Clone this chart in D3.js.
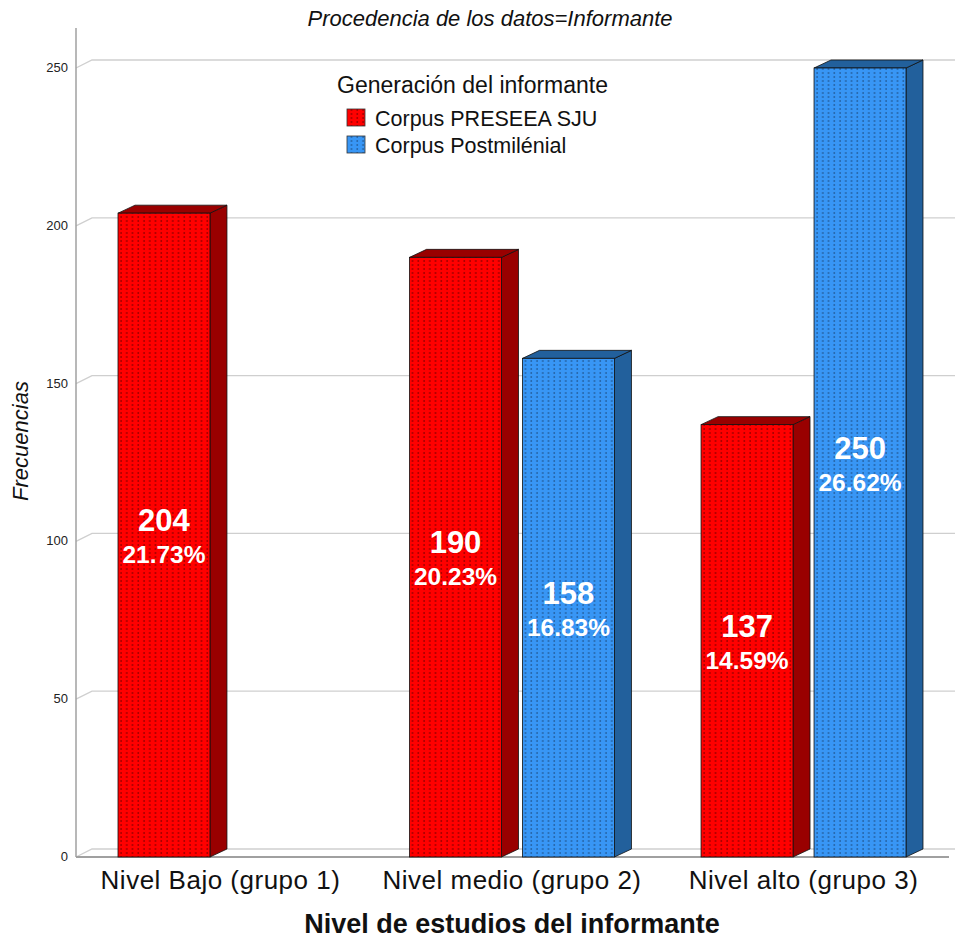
<!DOCTYPE html>
<html>
<head>
<meta charset="utf-8">
<script src="https://cdn.jsdelivr.net/npm/d3@7"></script>
<style>
  body { margin: 0; background: #fff; }
  svg { display: block; font-family: "Liberation Sans", Arial, sans-serif; }
</style>
</head>
<body>
<div id="chart"></div>
<script>
// data
let categories = ["Nivel Bajo (grupo 1)", "Nivel medio (grupo 2)", "Nivel alto (grupo 3)"];
let series = ["Corpus PRESEEA SJU", "Corpus Postmilénial"];
let presseaCounts = [204, 190, 137];
let postCounts = [null, 158, 250];
let presseaPct = ["21.73%", "20.23%", "14.59%"];
let postPct = [null, "16.83%", "26.62%"];
let yTicks = [0, 50, 100, 150, 200, 250];

let width = 955, height = 938;
let depth = {dx: 17, dy: -8};

let faceColor = {"Corpus PRESEEA SJU": "#ff0000", "Corpus Postmilénial": "#3896f5"};
let sideColor = {"Corpus PRESEEA SJU": "#990000", "Corpus Postmilénial": "#22609c"};
let dotColor = {"Corpus PRESEEA SJU": "#7a0000", "Corpus Postmilénial": "#1d4f86"};

let bars = [];
categories.forEach((c, i) => {
    if (presseaCounts[i] != null) bars.push({cat: c, s: series[0], v: presseaCounts[i], pct: presseaPct[i]});
    if (postCounts[i] != null) bars.push({cat: c, s: series[1], v: postCounts[i], pct: postPct[i]});
});

const svg = d3.select("#chart")
    .append("svg")
    .attr("width", width)
    .attr("height", height);

// dotted fill patterns
const defs = svg.append("defs");
series.forEach((s, i) => {
    let p = defs.append("pattern")
        .attr("id", "pat" + i)
        .attr("patternUnits", "userSpaceOnUse")
        .attr("width", 5.75)
        .attr("height", 4);
    p.append("rect").attr("width", 5.75).attr("height", 4).attr("fill", faceColor[s]);
    p.append("rect").attr("x", 2.5).attr("y", 0).attr("width", 1).attr("height", 2)
        .attr("fill", dotColor[s]);
});

let x = d3.scaleBand()
    .domain(categories)
    .range([118, 906])
    .paddingInner(0.297)
    .paddingOuter(0);

let xs = d3.scaleBand()
    .domain(series)
    .range([0, x.bandwidth()])
    .paddingInner(0.186)
    .paddingOuter(0);

let y = d3.scaleLinear()
    .domain([0, 250])
    .range([857, 68]);

// gridlines on back wall
const grid = svg.append("g");
yTicks.forEach(t => {
    grid.append("path")
        .attr("d", `M76,${y(t)}L${76 + depth.dx - 1},${y(t) + depth.dy}L${width},${y(t) + depth.dy}`)
        .attr("fill", "none")
        .attr("stroke", "#cfcfcf")
        .attr("stroke-width", 1.3);
});

// tick labels
svg.append("g")
    .selectAll("text")
    .data(yTicks)
    .join("text")
    .attr("x", 68)
    .attr("y", d => y(d) + 4)
    .attr("text-anchor", "end")
    .attr("font-size", 13)
    .attr("fill", "#222")
    .text(d => d);

// axis lines
svg.append("line")
    .attr("x1", 76).attr("x2", 76)
    .attr("y1", 28).attr("y2", y(0))
    .attr("stroke", "#a0a0a0").attr("stroke-width", 1.5);
svg.append("line")
    .attr("x1", 76).attr("x2", 949)
    .attr("y1", y(0)).attr("y2", y(0))
    .attr("stroke", "#a0a0a0").attr("stroke-width", 2);

// 3D bars
const bar = svg.append("g")
    .selectAll("g")
    .data(bars)
    .join("g")
    .attr("transform", d => `translate(${x(d.cat) + xs(d.s)},0)`);

let bw = xs.bandwidth();

bar.append("path")
    .attr("d", d => `M${bw},${y(d.v)}L${bw + depth.dx},${y(d.v) + depth.dy}L${bw + depth.dx},${y(0) + depth.dy}L${bw},${y(0)}Z`)
    .attr("fill", d => sideColor[d.s])
    .attr("stroke", "#111").attr("stroke-width", 0.8);

bar.append("path")
    .attr("d", d => `M0,${y(d.v)}L${depth.dx},${y(d.v) + depth.dy}L${bw + depth.dx},${y(d.v) + depth.dy}L${bw},${y(d.v)}Z`)
    .attr("fill", d => sideColor[d.s])
    .attr("stroke", "#111").attr("stroke-width", 0.8);

bar.append("rect")
    .attr("x", 0)
    .attr("y", d => y(d.v))
    .attr("width", bw)
    .attr("height", d => y(0) - y(d.v))
    .attr("fill", d => "url(#pat" + series.indexOf(d.s) + ")")
    .attr("stroke", "#111").attr("stroke-width", 0.8);

bar.append("text")
    .attr("x", bw / 2)
    .attr("y", d => (y(d.v) + y(0)) / 2 - 4)
    .attr("text-anchor", "middle")
    .attr("font-size", 31)
    .attr("font-weight", "bold")
    .attr("fill", "#fff")
    .text(d => d.v);

bar.append("text")
    .attr("x", bw / 2)
    .attr("y", d => (y(d.v) + y(0)) / 2 + 28)
    .attr("text-anchor", "middle")
    .attr("font-size", 24.5)
    .attr("font-weight", "bold")
    .attr("fill", "#fff")
    .text(d => d.pct);

// category labels
svg.append("g")
    .selectAll("text")
    .data(categories)
    .join("text")
    .attr("x", d => x(d) + x.bandwidth() / 2)
    .attr("y", 889)
    .attr("text-anchor", "middle")
    .attr("font-size", 26)
    .attr("letter-spacing", 0.5)
    .attr("fill", "#111")
    .text(d => d);

// titles
svg.append("text")
    .attr("x", 512).attr("y", 933)
    .attr("text-anchor", "middle")
    .attr("font-size", 27)
    .attr("font-weight", "bold")
    .attr("fill", "#111")
    .text("Nivel de estudios del informante");

svg.append("text")
    .attr("x", 490).attr("y", 26)
    .attr("text-anchor", "middle")
    .attr("font-size", 22)
    .attr("font-style", "italic")
    .attr("fill", "#111")
    .text("Procedencia de los datos=Informante");

svg.append("text")
    .attr("transform", "translate(28,441) rotate(-90)")
    .attr("text-anchor", "middle")
    .attr("font-size", 22)
    .attr("font-style", "italic")
    .attr("fill", "#111")
    .text("Frecuencias");

// legend
const legend = svg.append("g").attr("transform", "translate(337,0)");
legend.append("text")
    .attr("x", 0).attr("y", 93)
    .attr("font-size", 23)
    .attr("fill", "#111")
    .text("Generación del informante");

const item = legend.selectAll("g.item")
    .data(series)
    .join("g")
    .attr("class", "item")
    .attr("transform", (d, i) => `translate(0,${109 + i * 27})`);

item.append("rect")
    .attr("x", 10).attr("y", 0)
    .attr("width", 18).attr("height", 17)
    .attr("fill", (d, i) => "url(#pat" + i + ")")
    .attr("stroke", "#333").attr("stroke-width", 0.8);

item.append("text")
    .attr("x", 38).attr("y", 17)
    .attr("font-size", 21.5)
    .attr("fill", "#111")
    .text(d => d);
</script>
</body>
</html>
